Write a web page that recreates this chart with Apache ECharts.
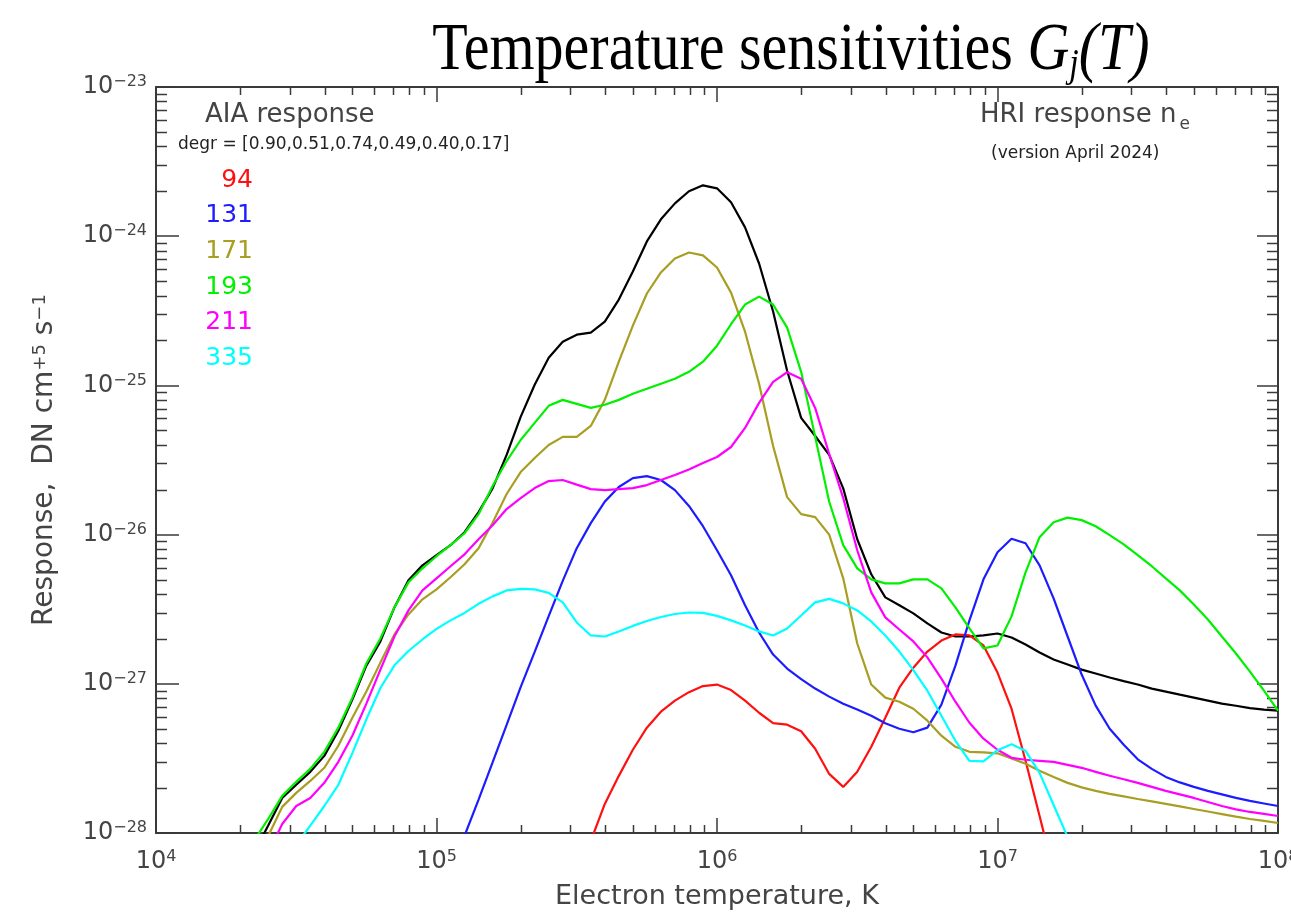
<!DOCTYPE html>
<html>
<head>
<meta charset="utf-8">
<script src="https://cdn.jsdelivr.net/npm/echarts@6/dist/echarts.min.js"></script>
<style>html,body{margin:0;padding:0;background:#fff;overflow:hidden}#c{width:1291px;height:916px;overflow:hidden}</style>
</head>
<body>
<div id="c"></div>
<script>
// log10 of electron temperature (K), shared sampling grid
const logT = [4.30,4.35,4.40,4.45,4.50,4.55,4.60,4.65,4.70,4.75,4.80,4.85,4.90,4.95,5.00,
  5.05,5.10,5.15,5.20,5.25,5.30,5.35,5.40,5.45,5.50,5.55,5.60,5.65,5.70,5.75,5.80,5.85,5.90,5.95,6.00,
  6.05,6.10,6.15,6.20,6.25,6.30,6.35,6.40,6.45,6.50,6.55,6.60,6.65,6.70,6.75,6.80,6.85,6.90,6.95,7.00,
  7.05,7.10,7.15,7.20,7.25,7.30,7.35,7.40,7.45,7.50,7.55,7.60,7.65,7.70,7.75,7.80,7.85,7.90,7.95,8.00];

// log10 of response (DN cm^5 s^-1)
const gHRI = [-28.32,-28.13,-27.95,-27.765,-27.677,-27.59,-27.483,-27.315,-27.106,-26.878,-26.716,-26.488,-26.306,-26.206,-26.138,
  -26.071,-25.984,-25.849,-25.69,-25.466,-25.211,-24.996,-24.815,-24.707,-24.66,-24.646,-24.573,-24.425,-24.237,-24.035,-23.887,-23.78,-23.699,-23.659,-23.679,
  -23.773,-23.941,-24.183,-24.505,-24.902,-25.218,-25.339,-25.466,-25.69,-26.031,-26.266,-26.421,-26.474,-26.528,-26.595,-26.656,-26.683,-26.683,-26.676,-26.663,
  -26.69,-26.737,-26.79,-26.837,-26.871,-26.905,-26.931,-26.958,-26.982,-27.005,-27.032,-27.052,-27.073,-27.093,-27.113,-27.133,-27.147,-27.163,-27.173,-27.18];

const g94 = [null,null,null,null,null,null,null,null,null,null,null,null,null,null,null,
  null,null,null,null,null,null,null,null,-28.6,-28.32,-28.054,-27.805,-27.617,-27.442,-27.294,-27.187,-27.113,-27.056,-27.015,-27.005,
  -27.042,-27.113,-27.194,-27.264,-27.274,-27.318,-27.435,-27.604,-27.691,-27.59,-27.422,-27.227,-27.026,-26.892,-26.784,-26.71,-26.669,-26.676,-26.743,-26.925,
  -27.167,-27.516,-27.886,-28.26,-28.65,null,null,null,null,null,null,null,null,null,null,null,null,null,null,null];

const g131 = [null,null,null,null,null,null,null,null,null,null,null,null,null,null,-28.52,
  -28.27,-28.018,-27.776,-27.527,-27.276,-27.022,-26.786,-26.546,-26.31,-26.091,-25.923,-25.779,-25.681,-25.621,-25.608,-25.634,-25.702,-25.808,-25.944,-26.105,
  -26.273,-26.474,-26.656,-26.804,-26.898,-26.969,-27.032,-27.086,-27.133,-27.173,-27.214,-27.264,-27.301,-27.325,-27.294,-27.14,-26.878,-26.575,-26.3,-26.118,
  -26.028,-26.058,-26.206,-26.427,-26.683,-26.938,-27.146,-27.301,-27.409,-27.506,-27.57,-27.624,-27.661,-27.691,-27.718,-27.741,-27.765,-27.785,-27.802,-27.819];

const g171 = [-28.4,-28.2,-28.02,-27.825,-27.731,-27.651,-27.563,-27.415,-27.227,-27.052,-26.858,-26.669,-26.535,-26.434,-26.367,
  -26.286,-26.199,-26.091,-25.92,-25.728,-25.581,-25.487,-25.399,-25.345,-25.345,-25.272,-25.097,-24.841,-24.599,-24.384,-24.243,-24.149,-24.109,-24.129,-24.21,
  -24.378,-24.64,-24.989,-25.406,-25.749,-25.863,-25.883,-26.0,-26.293,-26.73,-27.005,-27.093,-27.12,-27.167,-27.247,-27.348,-27.422,-27.456,-27.459,-27.466,
  -27.5,-27.536,-27.583,-27.624,-27.664,-27.694,-27.718,-27.738,-27.755,-27.772,-27.788,-27.805,-27.822,-27.839,-27.856,-27.873,-27.89,-27.906,-27.919,-27.933];

const g193 = [-28.25,-28.05,-27.906,-27.751,-27.657,-27.57,-27.456,-27.294,-27.093,-26.864,-26.696,-26.488,-26.32,-26.226,-26.145,
  -26.071,-25.991,-25.863,-25.675,-25.507,-25.366,-25.251,-25.137,-25.097,-25.124,-25.151,-25.13,-25.097,-25.056,-25.023,-24.989,-24.956,-24.909,-24.841,-24.734,
  -24.59,-24.458,-24.405,-24.458,-24.613,-24.909,-25.345,-25.78,-26.071,-26.226,-26.3,-26.327,-26.327,-26.3,-26.3,-26.36,-26.488,-26.629,-26.763,-26.743,
  -26.548,-26.253,-26.017,-25.917,-25.886,-25.903,-25.944,-26.004,-26.065,-26.138,-26.212,-26.293,-26.374,-26.468,-26.569,-26.683,-26.797,-26.918,-27.046,-27.18];

const g211 = [-28.6,-28.35,-28.134,-27.94,-27.819,-27.765,-27.664,-27.523,-27.348,-27.133,-26.905,-26.683,-26.508,-26.374,-26.293,
  -26.212,-26.132,-26.031,-25.937,-25.829,-25.755,-25.688,-25.641,-25.634,-25.665,-25.695,-25.702,-25.695,-25.688,-25.668,-25.634,-25.601,-25.564,-25.52,-25.48,
  -25.413,-25.285,-25.117,-24.976,-24.912,-24.956,-25.151,-25.46,-25.755,-26.105,-26.387,-26.555,-26.636,-26.716,-26.823,-26.965,-27.12,-27.261,-27.368,-27.442,
  -27.496,-27.509,-27.516,-27.523,-27.543,-27.563,-27.59,-27.616,-27.64,-27.664,-27.691,-27.718,-27.741,-27.765,-27.792,-27.819,-27.842,-27.859,-27.872,-27.886];

const g335 = [-28.65,-28.5,-28.35,-28.19,-28.08,-27.95,-27.819,-27.677,-27.465,-27.238,-27.028,-26.876,-26.78,-26.703,-26.632,
  -26.575,-26.525,-26.464,-26.414,-26.374,-26.364,-26.367,-26.391,-26.454,-26.589,-26.676,-26.683,-26.649,-26.612,-26.579,-26.552,-26.532,-26.522,-26.525,-26.545,
  -26.575,-26.609,-26.649,-26.676,-26.629,-26.542,-26.454,-26.431,-26.461,-26.508,-26.582,-26.676,-26.784,-26.908,-27.046,-27.214,-27.382,-27.516,-27.52,-27.445,
  -27.405,-27.449,-27.597,-27.812,-28.027,-28.25,null,null,null,null,null,null,null,null,null,null,null,null,null,null];

const channels = ['94','131','171','193','211','335'];
const channelColors = ['#ff1010','#1c1cff','#a89e22','#00f000','#ff00ff','#00ffff'];
const degr = [0.90,0.51,0.74,0.49,0.40,0.17];
const xDecades = [4,5,6,7,8];          // exponents of temperature ticks
const yDecades = [-28,-27,-26,-25,-24,-23]; // exponents of response ticks
const minorFactors = [2,3,4,5,6,7,8,9];

const channelData = [g94,g131,g171,g193,g211,g335];
const AX = '#3a3a3a';
const LF = 'DejaVu Sans';
const TXT = '#444';

function pairs(arr){ return logT.map((t,i)=>[t, arr[i]]); }

const minorData = [];
for (let d = xDecades[0]; d < xDecades[xDecades.length-1]; d++)
  for (const f of minorFactors) minorData.push([0, d + Math.log10(f)]);
for (let d = yDecades[0]; d < yDecades[yDecades.length-1]; d++)
  for (const f of minorFactors) minorData.push([1, d + Math.log10(f)]);

function renderMinor(params, api){
  const kind = api.value(0), v = api.value(1);
  const cs = params.coordSys;
  const st = {stroke: AX, lineWidth: 1.5};
  if (kind === 0){
    const px = Math.round(api.coord([v, yDecades[0]])[0]) + 0.5;
    const b = cs.y + cs.height, t = cs.y;
    return {type:'group', children:[
      {type:'line', shape:{x1:px,y1:b,x2:px,y2:b-8}, style:st},
      {type:'line', shape:{x1:px,y1:t,x2:px,y2:t+8}, style:st}]};
  } else {
    const py = Math.round(api.coord([xDecades[0], v])[1]) + 0.5;
    const l = cs.x, r = cs.x + cs.width;
    return {type:'group', children:[
      {type:'line', shape:{x1:l,y1:py,x2:l+11,y2:py}, style:st},
      {type:'line', shape:{x1:r,y1:py,x2:r-11,y2:py}, style:st}]};
  }
}

const xRich = {b:{fontSize:24,fontFamily:LF,color:TXT,lineHeight:26},
               s:{fontSize:16,fontFamily:LF,color:TXT,verticalAlign:'top',lineHeight:2}};
const yRich = {b:{fontSize:24,fontFamily:LF,color:TXT,lineHeight:26},
               s:{fontSize:16,fontFamily:LF,color:TXT,verticalAlign:'top',lineHeight:8}};

const axisCommon = {
  type:'value', splitLine:{show:false},
  axisLine:{show:true, onZero:false, lineStyle:{color:AX, width:2}},
};

const series = [];
series.push({type:'custom', renderItem: renderMinor, data: minorData, silent:true, z:1, clip:false});
series.push({type:'line', name:'HRI', data: pairs(gHRI), showSymbol:false, symbol:'none',
  lineStyle:{color:'#000', width:2.2}, itemStyle:{color:'#000'}, z:2, clip:true});
channels.forEach((c,i)=>{
  series.push({type:'line', name:c, data: pairs(channelData[i]), showSymbol:false, symbol:'none',
    lineStyle:{color:channelColors[i], width:2.2}, itemStyle:{color:channelColors[i]}, z:3, clip:true});
});

const graphic = [
  {type:'text', x:791, y:51, scaleY:1.16, style:{
    text:'{n|Temperature sensitivities }{i|G}{j|j}{i|(T)}',
    align:'center', verticalAlign:'middle',
    rich:{
      n:{fontFamily:'Liberation Serif', fontSize:58, fill:'#000', lineHeight:60},
      i:{fontFamily:'Liberation Serif', fontSize:58, fontStyle:'italic', fill:'#000', lineHeight:60},
      j:{fontFamily:'Liberation Serif', fontSize:34, fontStyle:'italic', fill:'#000', lineHeight:32, verticalAlign:'bottom'}
    }}},
  {type:'text', x:205, y:115, style:{text:'AIA response', font:'26px "DejaVu Sans"', fill:TXT, align:'left', verticalAlign:'middle'}},
  {type:'text', x:178, y:145, style:{text:'degr = [' + degr.map(v=>v.toFixed(2)).join(',') + ']', font:'17px "DejaVu Sans"', fill:'#222', align:'left', verticalAlign:'middle'}},
  {type:'text', x:980, y:115, style:{text:'{m|HRI response n}{e|e}', align:'left', verticalAlign:'middle',
    rich:{m:{fontFamily:LF, fontSize:26, fill:TXT, lineHeight:36},
          e:{fontFamily:LF, fontSize:17, fill:TXT, lineHeight:10, verticalAlign:'bottom', padding:[0,0,0,3]}}}},
  {type:'text', x:991, y:154, style:{text:'(version April 2024)', font:'17px "DejaVu Sans"', fill:'#222', align:'left', verticalAlign:'middle'}}
];
channels.forEach((c,i)=>{
  graphic.push({type:'text', x:253, y:180 + i*35.7, style:{text:c, font:'25px "DejaVu Sans"', fill:channelColors[i], align:'right', verticalAlign:'middle'}});
});

const option = {
  backgroundColor:'#fff',
  animation:false,
  grid:{left:156, right:13, top:87, bottom:83, containLabel:false, outerBoundsMode:'none'},
  xAxis:[
    Object.assign({}, axisCommon, {position:'bottom', min:xDecades[0], max:xDecades[xDecades.length-1], interval:1,
      axisTick:{show:true, inside:true, length:15, lineStyle:{color:AX, width:1.5}},
      axisLabel:{show:true, margin:16, formatter:v=>'{b|10}{s|'+v+'}', rich:xRich, showMinLabel:true, showMaxLabel:true, hideOverlap:false},
      name:'Electron temperature, K', nameLocation:'middle', nameGap:50,
      nameTextStyle:{fontFamily:LF, fontSize:27, color:TXT}}),
    Object.assign({}, axisCommon, {position:'top', min:xDecades[0], max:xDecades[xDecades.length-1], interval:1,
      axisTick:{show:true, inside:true, length:15, lineStyle:{color:AX, width:1.5}},
      axisLabel:{show:false}})
  ],
  yAxis:[
    Object.assign({}, axisCommon, {position:'left', min:yDecades[0], max:yDecades[yDecades.length-1], interval:1,
      axisTick:{show:true, inside:true, length:23, lineStyle:{color:AX, width:1.5}},
      axisLabel:{show:true, margin:9, formatter:v=>'{b|10}{s|\u2212'+Math.abs(v)+'}', rich:yRich, showMinLabel:true, showMaxLabel:true},
      name:'Response,  DN cm{s|+5} s{s|\u22121}', nameLocation:'middle', nameRotate:90, nameGap:97,
      nameTextStyle:{fontFamily:LF, fontSize:28, color:TXT,
        rich:{s:{fontFamily:LF, fontSize:18, color:TXT, verticalAlign:'top', lineHeight:8}}}}),
    Object.assign({}, axisCommon, {position:'right', min:yDecades[0], max:yDecades[yDecades.length-1], interval:1,
      axisTick:{show:true, inside:true, length:21, lineStyle:{color:AX, width:1.5}},
      axisLabel:{show:false}})
  ],
  series: series,
  graphic: graphic
};

const chart = echarts.init(document.getElementById('c'), null, {renderer:'canvas', width:1291, height:916});
chart.setOption(option);
</script>
</body>
</html>
